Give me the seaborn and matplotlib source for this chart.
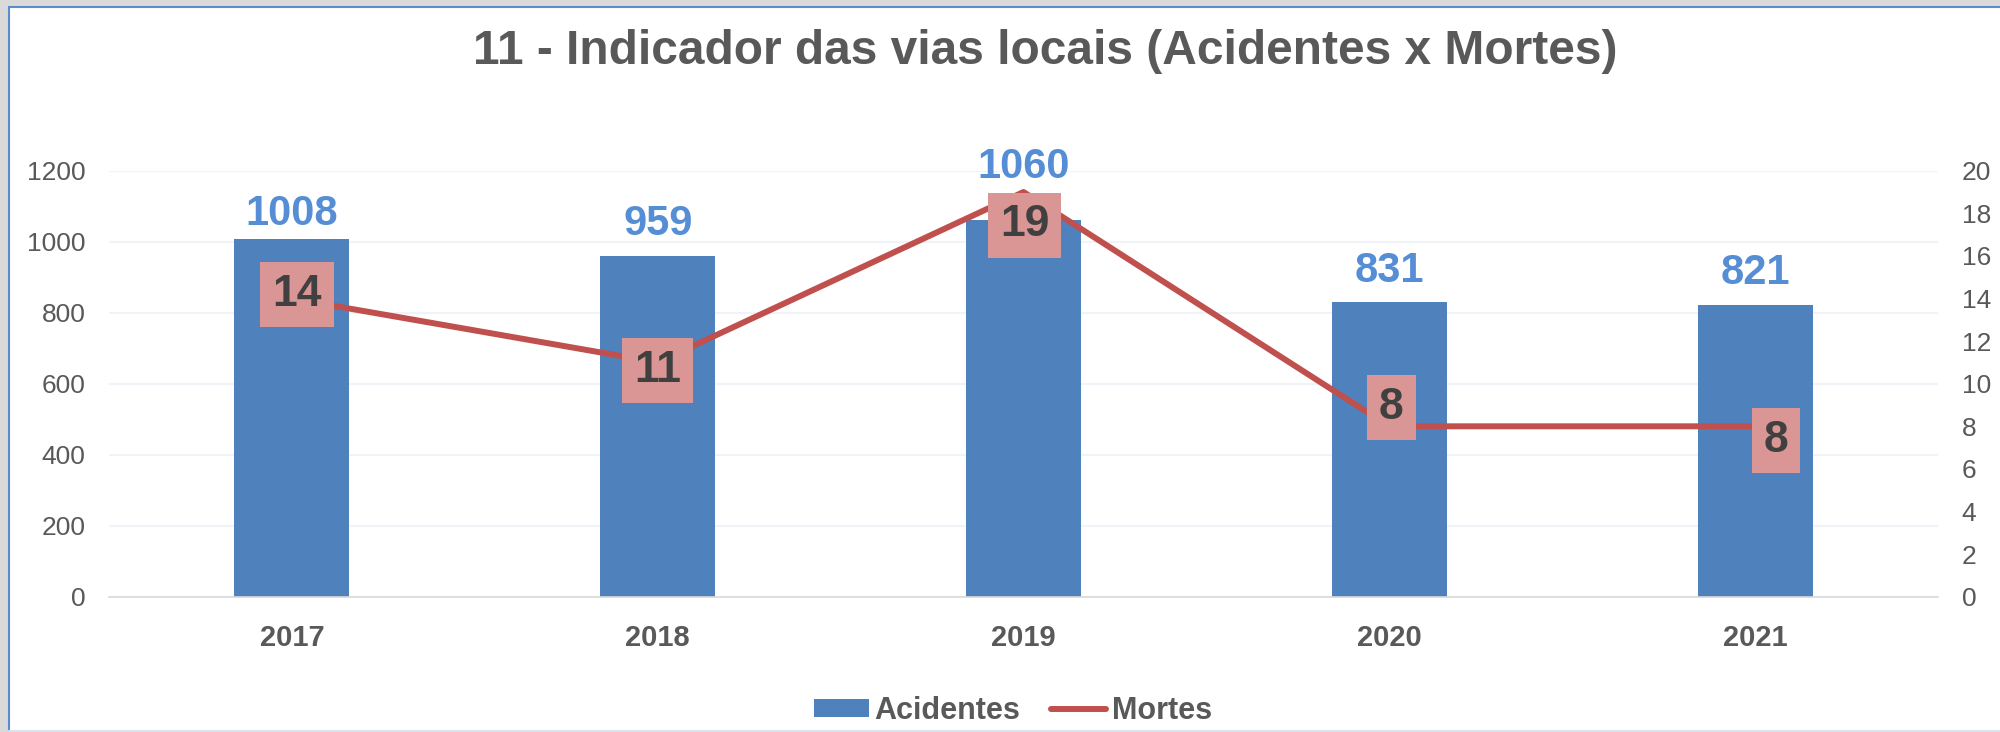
import numpy as np
import matplotlib
matplotlib.use("Agg")
import matplotlib.pyplot as plt
import seaborn as sns
from matplotlib.patches import Rectangle

# data
anos = ["2017", "2018", "2019", "2020", "2021"]
acidentes = [1008, 959, 1060, 831, 821]
mortes = [14, 11, 19, 8, 8]

# label nudges in pixels (Excel had them placed by hand)
off_acid = [14, 21, 42, 20, 21]
off_mort = [(5, 4), (0, -8), (1, -33), (2, 19), (21, -14)]

cor_barra = "#4F81BD"
cor_linha = "#C0504D"
cinza = "#595959"

sns.set_theme(style="white")
plt.rcParams["font.family"] = ["Liberation Sans", "DejaVu Sans"]

fig = plt.figure(figsize=(20, 7.32), dpi=100, facecolor="#DADADA")
# white chart area with the blue frame line on top/left
fig.patches.append(Rectangle((8.5 / 2000, -0.02), 1.05, 1 - 6.5 / 732 + 0.02,
                             transform=fig.transFigure, facecolor="white",
                             edgecolor="#5B8BD0", linewidth=1.5, zorder=-10))
fig.lines.append(plt.Line2D([9 / 2000, 1], [1.5 / 732, 1.5 / 732], transform=fig.transFigure,
                            color="#DCE3EC", linewidth=1.5, zorder=-5))

ax = fig.add_axes([109 / 2000, 1 - 596.7 / 732, (1938 - 109) / 2000, (596.7 - 170.7) / 732])
ax.set_facecolor("none")

sns.barplot(x=anos, y=acidentes, ax=ax, color=cor_barra, saturation=1,
            width=0.314, linewidth=0)

ax2 = ax.twinx()
sns.lineplot(x=np.arange(len(anos)), y=mortes, ax=ax2, color=cor_linha,
             linewidth=4.3, solid_capstyle="round", solid_joinstyle="round")

ax.set_xlim(-0.5, len(anos) - 0.5)
ax.set_ylim(0, 1200)
ax.set_yticks(range(0, 1201, 200))
ax2.set_ylim(0, 20)
ax2.set_yticks(range(0, 21, 2))

ax.yaxis.grid(True, color="#F0F3F8", linewidth=1.5)
ax.set_axisbelow(True)
ax2.grid(False)
for s in ["top", "left", "right"]:
    ax.spines[s].set_visible(False)
for s in ["top", "left", "right", "bottom"]:
    ax2.spines[s].set_visible(False)
ax.spines["bottom"].set_color("#D9D9D9")
ax.spines["bottom"].set_linewidth(1.2)

ax.set_xlabel("")
ax.set_ylabel("")
ax2.set_xlabel("")
ax2.set_ylabel("")
ax.tick_params(axis="y", length=0, pad=17, labelsize=19, labelcolor=cinza)
ax2.tick_params(axis="y", length=0, pad=17, labelsize=19, labelcolor=cinza)
ax.tick_params(axis="x", length=0, pad=20, labelsize=21, labelcolor=cinza)
for t in ax.get_xticklabels():
    t.set_fontweight("bold")

# value labels for the bars
for i, (v, dy) in enumerate(zip(acidentes, off_acid)):
    ax.annotate(str(v), (i, v), xytext=(0, dy), textcoords="offset pixels",
                ha="center", va="baseline", fontsize=30, fontweight="bold",
                color="#558ED5")

# value labels for the line, in pink boxes
for i, (v, (dx, dy)) in enumerate(zip(mortes, off_mort)):
    ax2.annotate(str(v), (i, v), xytext=(dx, dy), textcoords="offset pixels",
                 ha="center", va="center", fontsize=32, fontweight="bold",
                 color="#404040", zorder=5,
                 bbox=dict(boxstyle="square,pad=0.27", facecolor="#D99694",
                           edgecolor="none"))

fig.text(1045 / 2000, 1 - 64 / 732, "11 - Indicador das vias locais (Acidentes x Mortes)",
         ha="center", va="baseline", fontsize=34.5, fontweight="bold", color=cinza)

handles = [Rectangle((0, 0), 1, 1, facecolor=cor_barra, edgecolor="none"),
           plt.Line2D([0], [0], color=cor_linha, linewidth=4.3, solid_capstyle="round")]
leg = fig.legend(handles, ["Acidentes", "Mortes"], loc="center", ncol=2,
                 bbox_to_anchor=(1013 / 2000, 1 - 711 / 732), bbox_transform=fig.transFigure,
                 frameon=False, prop={"size": 22, "weight": "bold"},
                 handlelength=1.8, handleheight=0.55, handletextpad=0.2,
                 columnspacing=1.0)
for t in leg.get_texts():
    t.set_color(cinza)

fig.savefig("out.png", dpi=100, facecolor=fig.get_facecolor())
